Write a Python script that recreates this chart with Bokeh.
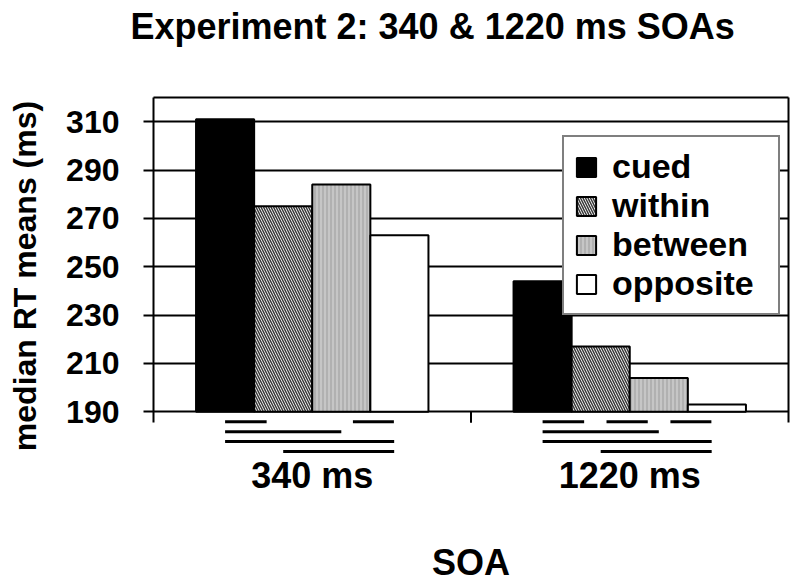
from bokeh.plotting import figure
from bokeh.layouts import column
from bokeh.models import (FactorRange, Range1d, LinearAxis, CategoricalAxis, FixedTicker,
                          Grid, Legend, LegendItem, ColumnDataSource)
from bokeh.embed import file_html
from bokeh.resources import INLINE

# ---------------- data ----------------
TITLE = "Experiment 2: 340 & 1220 ms SOAs"
X_LABEL = "SOA"
Y_LABEL = "median RT means (ms)"
soas = ["340 ms", "1220 ms"]
conditions = ["cued", "within", "between", "opposite"]
cued = [311, 244]
within = [275, 217]
between = [284, 204]
opposite = [263, 193]
y_ticks = [190, 210, 230, 250, 270, 290, 310]
y_min, y_max = 190, 320
# pairwise comparison bars drawn under each SOA group, one list per row
sig_340 = [[("cued", "within"), ("between", "opposite")],
           [("cued", "between")],
           [("cued", "opposite")],
           [("within", "opposite")]]
sig_1220 = [[("cued", "within"), ("within", "between"), ("between", "opposite")],
            [("cued", "between")],
            [("cued", "opposite")],
            [("within", "opposite")]]
sig_rows = [sig_340, sig_1220]

# ---------------- layout / style ----------------
FONT = "Liberation Sans"
W, H = 800, 585
TITLE_H = 64             # height of the strip that carries the chart title
TITLE_LEFT = 132
PH = H - TITLE_H         # height of the chart figure
B_LEFT, B_RIGHT = 153, 12
PLOT_TOP = 97 - TITLE_H  # pixel rows inside the chart figure
AXIS_PX = 413 - TITLE_H
FRAME_BOTTOM = 456 - TITLE_H
B_TOP = PLOT_TOP
B_BOTTOM = PH - FRAME_BOTTOM
px_per_unit = (AXIS_PX - PLOT_TOP) / (y_max - y_min)
Y_START = y_max - (FRAME_BOTTOM - PLOT_TOP) / px_per_unit
u = 1.0 / px_per_unit
TICK_PX = 11
ROW_PX = 10
bw = 0.183
n = len(conditions)

styles = {
    "cued": dict(fill_color="black"),
    "within": dict(fill_color="white", hatch_pattern="\\", hatch_color="#3a3a3a",
                   hatch_scale=5, hatch_weight=1.5),
    "between": dict(fill_color="#c6c6c6", hatch_pattern="|", hatch_color="#9c9c9c",
                    hatch_scale=4, hatch_weight=1),
    "opposite": dict(fill_color="white"),
}

# ---- title strip ----
pt = figure(width=W, height=TITLE_H, x_range=Range1d(0, 1), y_range=Range1d(0, 1),
            output_backend="svg", toolbar_location=None, title=TITLE,
            x_axis_location=None, y_axis_location=None,
            min_border_left=TITLE_LEFT, min_border_right=0, min_border_top=0,
            min_border_bottom=0)
pt.outline_line_color = None
pt.grid.visible = False
pt.title.text_font = FONT
pt.title.text_font_size = "36px"
pt.title.text_font_style = "bold"
pt.title.text_color = "black"
pt.title.align = "left"
pt.title.offset = -23
pt.title.vertical_align = "bottom"
pt.title.standoff = 6

# ---- chart ----
p = figure(width=W, height=PH, x_range=FactorRange(*soas, range_padding=0),
           y_range=Range1d(Y_START, y_max), output_backend="svg", toolbar_location=None,
           x_axis_location=None, y_axis_location=None, title=None,
           min_border_left=B_LEFT, min_border_right=B_RIGHT,
           min_border_top=B_TOP, min_border_bottom=B_BOTTOM)
p.outline_line_color = None
p.grid.visible = False
p.background_fill_color = "white"
p.border_fill_color = "white"

# gridlines (the 190 line doubles as the x-axis line)
ygrid = Grid(dimension=1, ticker=FixedTicker(ticks=y_ticks), grid_line_color="black",
             grid_line_width=2)
p.add_layout(ygrid)

# bars
renderers = {}
series = [cued, within, between, opposite]
idx = {c: j for j, c in enumerate(conditions)}


def bar_center(i, cond):
    return i + 0.5 + (idx[cond] - (n - 1) / 2) * bw


for cond, vals in zip(conditions, series):
    xs = [bar_center(i, cond) for i in range(len(soas))]
    src = ColumnDataSource(dict(x=xs, top=vals))
    renderers[cond] = p.vbar(x="x", top="top", bottom=y_min, width=bw, source=src,
                             line_color="black", line_width=2, **styles[cond])

# comparison bars
x0s, x1s, ys = [], [], []
for i, rows in enumerate(sig_rows):
    for k, row in enumerate(rows, start=1):
        y = y_min - k * ROW_PX * u
        for a, b in row:
            ia, ib = idx[a], idx[b]
            if ib - ia == 1:
                x0s.append(bar_center(i, a) + 0.1 * bw * ia)
                x1s.append(bar_center(i, b) - 0.095 * bw * (n - ib))
            else:
                x0s.append(bar_center(i, a))
                x1s.append(bar_center(i, b) - (0.09 * bw if ib == n - 1 else 0))
            ys.append(y)
p.segment(x0=x0s, y0=ys, x1=x1s, y1=ys, line_color="black", line_width=3)

# category boundary tick(s) between groups
bx = [float(i) for i in range(1, len(soas))]
p.segment(x0=bx, x1=bx, y0=[y_min] * len(bx), y1=[y_min - TICK_PX * u] * len(bx),
          line_color="black", line_width=2)

# axes
yaxis = LinearAxis(ticker=FixedTicker(ticks=y_ticks), bounds=(y_min - TICK_PX * u, y_max),
                   axis_label=Y_LABEL, axis_line_width=2, axis_line_color="black",
                   major_tick_out=10, major_tick_in=0, major_tick_line_width=2,
                   major_label_standoff=24,
                   major_label_text_font=FONT, major_label_text_font_size="32px",
                   major_label_text_font_style="bold", major_label_text_color="black",
                   axis_label_text_font=FONT, axis_label_text_font_size="32px",
                   axis_label_text_font_style="bold", axis_label_text_color="black",
                   axis_label_standoff=20)
p.add_layout(yaxis, "left")

raxis = LinearAxis(ticker=FixedTicker(ticks=[]), bounds=(y_min - TICK_PX * u, y_max),
                   axis_line_width=2, axis_line_color="black", major_tick_out=0, major_tick_in=0,
                   major_label_standoff=0)
p.add_layout(raxis, "right")

taxis = LinearAxis(ticker=FixedTicker(ticks=[]), axis_line_width=2, axis_line_color="black",
                   major_tick_out=0, major_tick_in=0, major_label_standoff=0)
p.add_layout(taxis, "above")

xaxis = CategoricalAxis(axis_line_color=None, major_tick_out=0, major_tick_in=0,
                        major_label_standoff=0, major_label_text_font=FONT,
                        major_label_text_font_size="36px", major_label_text_font_style="bold",
                        major_label_text_color="black", axis_label=X_LABEL,
                        axis_label_text_font=FONT, axis_label_text_font_size="36px",
                        axis_label_text_font_style="bold", axis_label_text_color="black",
                        axis_label_standoff=43)
p.add_layout(xaxis, "below")

# legend
legend = Legend(items=[LegendItem(label=c, renderers=[renderers[c]]) for c in conditions],
                location=(409, 139), orientation="vertical", margin=0,
                border_line_color="black", border_line_width=2,
                background_fill_color="white", background_fill_alpha=1.0,
                label_text_font=FONT, label_text_font_size="34px",
                label_text_font_style="bold", label_text_color="black",
                glyph_width=24, glyph_height=24, label_standoff=14, padding=10,
                spacing=0, label_height=38, label_width=156)
p.add_layout(legend)

layout = column(pt, p, spacing=0)
open("out.html", "w").write(file_html(layout, INLINE))
